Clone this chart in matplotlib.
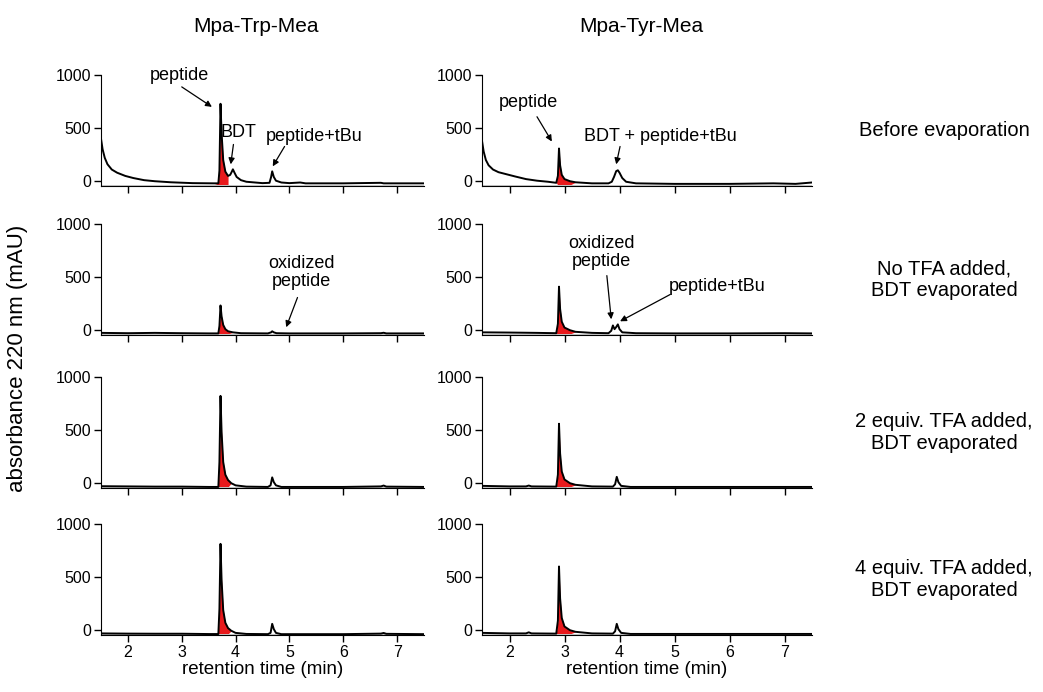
import matplotlib
matplotlib.use("Agg")
import matplotlib.pyplot as plt

plt.rcParams["font.family"] = ["Liberation Sans", "DejaVu Sans"]
plt.rcParams["font.size"] = 11

# traces: (retention time, absorbance)
trp_before_t = [1.5, 1.53, 1.57, 1.62, 1.7, 1.8, 1.95, 2.1, 2.3, 2.5, 2.8, 3.2, 3.6, 3.68,
                3.70, 3.72, 3.74, 3.77, 3.81, 3.86, 3.90, 3.93, 3.95, 3.98, 4.02, 4.1, 4.2,
                4.5, 4.63, 4.66, 4.68, 4.71, 4.75, 4.85, 5.0, 5.2, 5.25, 5.3, 6.0, 6.7,
                6.75, 6.8, 7.5]
trp_before_v = [400, 300, 220, 160, 110, 80, 50, 30, 10, 0, -10, -18, -20, -20,
                100, 729, 450, 200, 90, 50, 60, 90, 112, 80, 40, 10, -5,
                -18, -15, 40, 93, 40, 5, -12, -18, -12, -16, -20, -20, -15,
                -20, -20, -20]

trp_notfa_t = [1.5, 2.0, 2.5, 3.0, 3.5, 3.68, 3.70, 3.72, 3.74, 3.77, 3.81, 3.86, 3.95,
               4.1, 4.6, 4.66, 4.68, 4.71, 4.76, 5.0, 6.0, 6.7, 6.75, 6.8, 7.5]
trp_notfa_v = [-25, -28, -25, -28, -30, -30, 40, 233, 130, 50, 10, -10, -20,
               -28, -30, -20, -10, -20, -28, -30, -30, -28, -24, -30, -30]

trp_2eq_t = [1.5, 2.0, 2.5, 3.0, 3.5, 3.68, 3.70, 3.72, 3.74, 3.77, 3.81, 3.86, 3.92,
             4.0, 4.2, 4.6, 4.65, 4.68, 4.71, 4.75, 4.85, 5.5, 6.0, 6.7, 6.75, 6.8, 7.5]
trp_2eq_v = [-28, -30, -32, -32, -35, -35, 200, 822, 480, 200, 80, 30, 0,
             -20, -32, -35, -20, 55, 10, -20, -35, -35, -35, -30, -22, -32, -35]

trp_4eq_t = [1.5, 2.0, 2.5, 3.0, 3.5, 3.68, 3.70, 3.72, 3.74, 3.77, 3.81, 3.86, 3.92,
             4.0, 4.2, 4.6, 4.65, 4.68, 4.71, 4.75, 4.85, 5.5, 6.0, 6.7, 6.75, 6.8, 7.5]
trp_4eq_v = [-30, -32, -33, -33, -36, -36, 200, 813, 470, 190, 70, 20, -5,
             -25, -35, -37, -25, 60, 10, -25, -37, -37, -37, -32, -26, -34, -37]

tyr_before_t = [1.5, 1.53, 1.57, 1.62, 1.7, 1.8, 1.95, 2.1, 2.3, 2.5, 2.7, 2.85, 2.88,
                2.9, 2.92, 2.95, 3.0, 3.1, 3.2, 3.5, 3.8, 3.86, 3.9, 3.94, 3.97, 4.0,
                4.05, 4.12, 4.3, 5.0, 6.0, 6.8, 7.2, 7.5]
tyr_before_v = [380, 280, 200, 150, 110, 85, 65, 45, 20, 5, -5, -15, 50,
                308, 150, 60, 20, 0, -10, -20, -20, -5, 40, 95, 103, 80,
                30, -5, -20, -25, -25, -20, -25, -12]

tyr_notfa_t = [1.5, 2.0, 2.5, 2.85, 2.88, 2.9, 2.92, 2.95, 3.0, 3.1, 3.2, 3.5, 3.8,
               3.85, 3.88, 3.91, 3.94, 3.97, 4.0, 4.05, 4.3, 5.0, 6.0, 7.0, 7.5]
tyr_notfa_v = [-20, -22, -25, -28, 60, 410, 200, 80, 25, 0, -15, -25, -28,
               -5, 45, 10, 30, 55, 10, -20, -28, -30, -30, -28, -30]

tyr_2eq_t = [1.5, 2.0, 2.3, 2.35, 2.4, 2.85, 2.88, 2.9, 2.92, 2.95, 3.0, 3.1, 3.2,
             3.5, 3.88, 3.92, 3.95, 3.98, 4.03, 4.2, 5.0, 6.0, 7.0, 7.5]
tyr_2eq_v = [-25, -30, -30, -22, -30, -32, 80, 560, 280, 110, 35, 0, -15,
             -30, -32, -10, 60, 10, -25, -35, -35, -35, -35, -35]

tyr_4eq_t = [1.5, 2.0, 2.3, 2.35, 2.4, 2.85, 2.88, 2.9, 2.92, 2.95, 3.0, 3.1, 3.2,
             3.5, 3.88, 3.92, 3.95, 3.98, 4.03, 4.2, 5.0, 6.0, 7.0, 7.5]
tyr_4eq_v = [-25, -30, -30, -20, -30, -32, 90, 600, 300, 115, 35, 0, -15,
             -30, -32, -10, 60, 10, -25, -35, -35, -35, -35, -35]

# peptide peak windows (red fill)
trp_fill = (3.68, 3.86)
tyr_fill = (2.88, 3.12)

col_titles = ["Mpa-Trp-Mea", "Mpa-Tyr-Mea"]
row_labels = ["Before evaporation",
              "No TFA added,\nBDT evaporated",
              "2 equiv. TFA added,\nBDT evaporated",
              "4 equiv. TFA added,\nBDT evaporated"]

traces = [
    [(trp_before_t, trp_before_v), (tyr_before_t, tyr_before_v)],
    [(trp_notfa_t, trp_notfa_v), (tyr_notfa_t, tyr_notfa_v)],
    [(trp_2eq_t, trp_2eq_v), (tyr_2eq_t, tyr_2eq_v)],
    [(trp_4eq_t, trp_4eq_v), (tyr_4eq_t, tyr_4eq_v)],
]
fills = [trp_fill, tyr_fill]

W, H = 1043, 692
fig = plt.figure(figsize=(W / 100, H / 100), dpi=100)

col_x = [(101, 424), (482, 812)]
row_y = [(75, 186), (224, 335), (377, 488), (524, 635)]
ymin, ymax = -45, 1000

axes = []
for r in range(4):
    row = []
    for c in range(2):
        x0, x1 = col_x[c]
        y0, y1 = row_y[r]
        ax = fig.add_axes([x0 / W, 1 - y1 / H, (x1 - x0) / W, (y1 - y0) / H])
        t, v = traces[r][c]
        f0, f1 = fills[c]
        ax.fill_between(t, v, ymin + 10, where=[f0 <= x <= f1 for x in t],
                        color="#e8191c", lw=0, interpolate=True)
        ax.fill_between([1.5, 7.5], ymin, ymin + 10, color="#c8c8c8", lw=0)
        ax.plot(t, v, color="black", lw=1.4)
        ax.set_xlim(1.5, 7.5)
        ax.set_ylim(ymin, ymax)
        ax.set_yticks([0, 500, 1000])
        ax.set_xticks([2, 3, 4, 5, 6, 7])
        ax.spines["top"].set_visible(False)
        ax.spines["right"].set_visible(False)
        ax.spines["left"].set_bounds(ymin, 1000)
        ax.tick_params(direction="out", length=5, width=1, labelsize=11.5, pad=2)
        if r < 3:
            ax.set_xticklabels([])
        else:
            ax.set_xlabel("retention time (min)", fontsize=13.5, labelpad=1)
        row.append(ax)
    axes.append(row)

title_x = [256, 641]
for c in range(2):
    fig.text(title_x[c] / W, 1 - 27 / H, col_titles[c], ha="center", va="center",
             fontsize=15)

for r in range(4):
    y0, y1 = row_y[r]
    fig.text(944 / W, 1 - (y0 + y1) / 2 / H, row_labels[r], ha="center",
             va="center", fontsize=14.5, linespacing=1.15)

fig.text(18 / W, 1 - 358 / H, "absorbance 220 nm (mAU)", rotation=90,
         ha="center", va="center", fontsize=16)

arrow = dict(arrowstyle="-|>", color="black", lw=0.9, mutation_scale=9,
             shrinkA=0, shrinkB=0)


def note(ax, text, xy, xytext, tail):
    ax.annotate("", xy=xy, xytext=tail, arrowprops=arrow, annotation_clip=False)
    ax.text(xytext[0], xytext[1], text, ha="center", va="center", fontsize=13,
            clip_on=False, linespacing=1.1)


note(axes[0][0], "peptide", (3.56, 700), (2.95, 1000), (3.0, 888))
note(axes[0][0], "BDT", (3.91, 159), (4.06, 458), (3.96, 346))
note(axes[0][0], "peptide+tBu", (4.69, 140), (5.46, 420), (4.91, 327))
note(axes[0][1], "peptide", (2.77, 374), (2.34, 738), (2.5, 607))
note(axes[0][1], "BDT + peptide+tBu", (3.94, 159), (4.74, 420), (4.01, 327))
note(axes[1][0], "oxidized\npeptide", (4.94, 28), (5.22, 542), (5.15, 308))
note(axes[1][1], "oxidized\npeptide", (3.85, 103), (3.68, 729), (3.77, 514))
note(axes[1][1], "peptide+tBu", (4.01, 84), (5.77, 411), (4.92, 336))

fig.savefig("out.png", dpi=100)
